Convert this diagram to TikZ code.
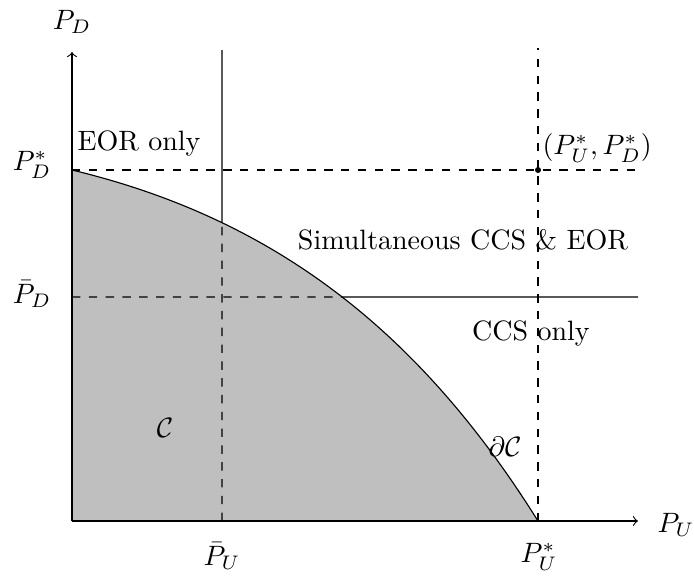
\documentclass[tikz,border=0pt]{standalone}
\usepackage{amsmath,amssymb}
\usetikzlibrary{intersections,calc}
\tikzset{
  axis/.style={->},
  guide/.style={dashed},
  region/.style={fill=gray!50, draw=none},
  lab/.style={inner sep=0pt}
}

\begin{document}
\begin{tikzpicture}[x=0.357pt,y=-0.357pt]
\useasboundingbox (0,0) rectangle (694,575);
% key points (picture coordinates, y downwards)
\coordinate (O) at (72,521);
\coordinate (Xend) at (638,521);
\coordinate (Yend) at (72,52);
\coordinate (PDs) at (72,170);
\coordinate (PUs) at (538,521);
\coordinate (star) at (538,170);
\coordinate (PDsEnd) at (638,170);
\coordinate (PUsTop) at (538,48);
\coordinate (PUb) at (222,521);
\coordinate (PUbTop) at (222,50);
\coordinate (PDb) at (72,297);
\coordinate (PDbEnd) at (638,297);
% feasible region and its boundary
\fill[region] (PDs) .. controls (272,218) and (418,329) .. (PUs) -- (O) -- cycle;
\draw[name path=bnd] (PDs) .. controls (272,218) and (418,329) .. (PUs);
\path[name path=vbar] (PUb) -- (PUbTop);
\path[name path=hbar] (PDb) -- (PDbEnd);
\path[name intersections={of=bnd and vbar, by=Vx}];
\path[name intersections={of=bnd and hbar, by=Hx}];
% thresholds
\draw[guide] (PUb) -- (Vx);
\draw (Vx) -- (PUbTop);
\draw[guide] (PDb) -- (Hx);
\draw (Hx) -- (PDbEnd);
\draw[guide] (PDs) -- (PDsEnd);
\draw[guide] (PUs) -- (PUsTop);
\fill (star) circle (3);
% axes
\draw[axis] (O) -- (Xend);
\draw[axis] (O) -- (Yend);
% labels
\node[lab] (lPU) at (676,525) {$P_U$};
\node[lab] (lPD) at (72,22) {$P_D$};
\node[lab] (lPDs) at (32,165) {$P_D^*$};
\node[lab] (lPDb) at (32,294) {$\bar{P}_D$};
\node[lab] (lPUb) at (222,556) {$\bar{P}_U$};
\node[lab] (lPUs) at (539,557) {$P_U^*$};
\node[lab, anchor=base west] (eor) at (77,150) {EOR only};
\node[lab, anchor=south west] (lstar) at (542,163) {$(P_U^*,P_D^*)$};
\node[lab, anchor=base] (both) at (463,249) {Simultaneous CCS \& EOR};
\node[lab, anchor=base] (ccs) at (531,340) {CCS only};
\node[lab] (lC) at (165,428) {$\mathcal{C}$};
\node[lab] (ldC) at (505,447) {$\partial\mathcal{C}$};
\end{tikzpicture}
\end{document}
